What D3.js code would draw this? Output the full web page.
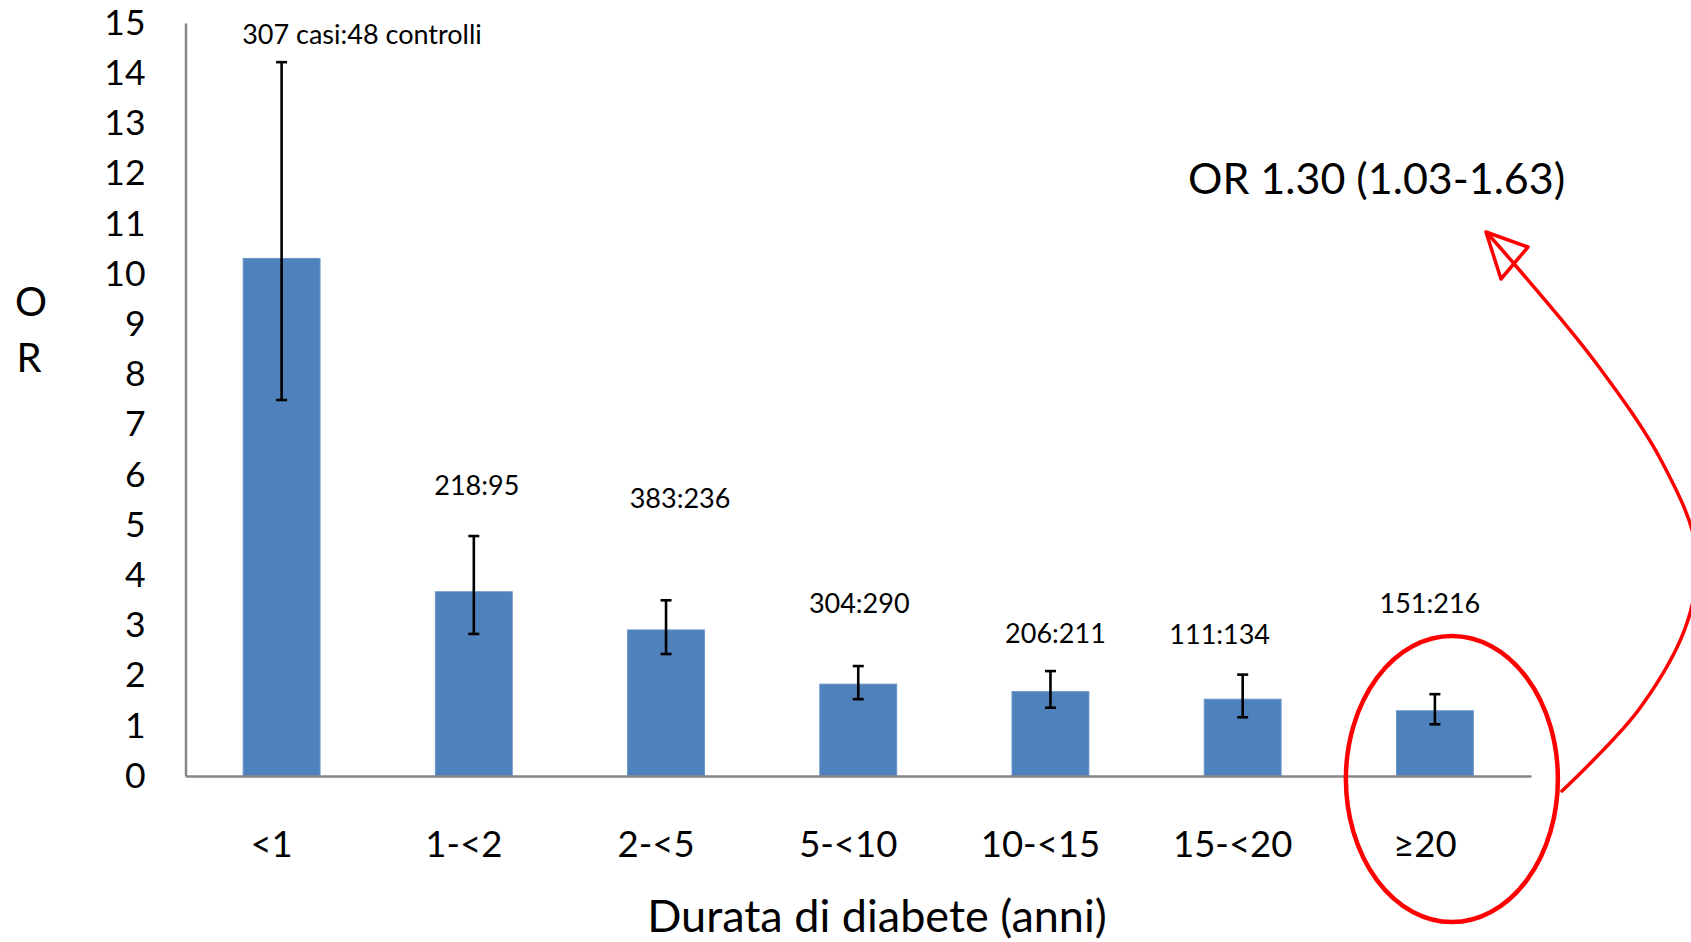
<!DOCTYPE html>
<html>
<head>
<meta charset="utf-8">
<script src="https://cdn.jsdelivr.net/npm/d3@7/dist/d3.min.js"></script>
<style>
  html, body { margin: 0; padding: 0; background: #ffffff; }
  svg { display: block; font-family: Lato, "Open Sans", sans-serif; }
</style>
</head>
<body>
<svg id="chart" width="1691" height="942"></svg>
<script>
// Odds ratio by duration of diabetes, with 95% confidence intervals
const categories = ["<1", "1-<2", "2-<5", "5-<10", "10-<15", "15-<20", "\u226520"];
const orValues   = [10.31, 3.67, 2.91, 1.83, 1.68, 1.53, 1.30];
const ciLow      = [7.49, 2.83, 2.43, 1.53, 1.36, 1.17, 1.03];
const ciHigh     = [14.22, 4.78, 3.50, 2.19, 2.09, 2.02, 1.63];
const countLabels = ["307 casi:48 controlli", "218:95", "383:236", "304:290", "206:211", "111:134", "151:216"];
const yTickValues = d3.range(0, 16);

// Placement of the case:control labels (horizontal nudge in px, height in OR units)
const labelDx = [0, 3, 14, 1, 5, -23, -5];
const labelAt = [14.58, 5.59, 5.34, 3.25, 2.65, 2.63, 3.25];

const svg = d3.select("#chart");
const plot = { left: 185.5, right: 1531, top: 23, bottom: 776 };

const x = d3.scaleBand()
  .domain(categories)
  .range([plot.left, plot.right])
  .paddingInner(0.6)
  .paddingOuter(0.3);

const y = d3.scaleLinear()
  .domain([0, 15])
  .range([plot.bottom, plot.top]);

const rows = categories.map((c, i) => ({
  cat: c, or: orValues[i], lo: ciLow[i], hi: ciHigh[i],
  label: countLabels[i], dx: labelDx[i], ly: labelAt[i], i
}));

// Bars
svg.append("g").selectAll("rect")
  .data(rows)
  .join("rect")
  .attr("x", d => x(d.cat))
  .attr("y", d => y(d.or))
  .attr("width", x.bandwidth())
  .attr("height", d => y(0) - y(d.or))
  .attr("fill", "#4f81bd")
  .attr("stroke", "#6a95c9")
  .attr("stroke-width", 1);

// Axes (lines only, Excel style)
const yAxis = d3.axisLeft(y).tickValues(yTickValues).tickSize(0).tickPadding(40).tickFormat(d3.format("d"));
const gy = svg.append("g").attr("transform", `translate(${plot.left},0)`).call(yAxis);
gy.select(".domain").attr("stroke", "#868686").attr("stroke-width", 2.5);
gy.selectAll("text")
  .attr("font-size", 35.5)
  .attr("font-family", "Lato")
  .attr("fill", "#000");

const xAxis = d3.axisBottom(x).tickSize(0).tickPadding(0);
const gx = svg.append("g").attr("transform", `translate(0,${plot.bottom})`).call(xAxis);
gx.select(".domain").attr("stroke", "#868686").attr("stroke-width", 2.5);
gx.selectAll("text")
  .attr("font-size", 36.5)
  .attr("font-family", "Lato")
  .attr("fill", "#000")
  .attr("dx", -10)
  .attr("y", 81)
  .attr("dy", 0);

// Error bars
const cap = 11;
const eg = svg.append("g").attr("stroke", "#000").attr("stroke-width", 2.6).attr("fill", "none");
rows.forEach(d => {
  const cx = x(d.cat) + x.bandwidth() / 2;
  eg.append("line").attr("x1", cx).attr("x2", cx).attr("y1", y(d.hi)).attr("y2", y(d.lo));
  eg.append("line").attr("x1", cx - cap / 2).attr("x2", cx + cap / 2).attr("y1", y(d.hi)).attr("y2", y(d.hi));
  eg.append("line").attr("x1", cx - cap / 2).attr("x2", cx + cap / 2).attr("y1", y(d.lo)).attr("y2", y(d.lo));
});

// Case:control counts above the bars
svg.append("g").selectAll("text")
  .data(rows)
  .join("text")
  .attr("x", d => d.i === 0 ? x(d.cat) - 1 : x(d.cat) + x.bandwidth() / 2 + d.dx)
  .attr("y", d => y(d.ly))
  .attr("text-anchor", d => d.i === 0 ? "start" : "middle")
  .attr("font-size", 27)
  .attr("fill", "#000")
  .text(d => d.label);

// Axis titles
svg.append("text").attr("x", 31).attr("y", 316).attr("text-anchor", "middle")
  .attr("font-size", 40).text("O");
svg.append("text").attr("x", 29).attr("y", 372).attr("text-anchor", "middle")
  .attr("font-size", 40).text("R");
svg.append("text").attr("x", 877).attr("y", 932).attr("text-anchor", "middle")
  .attr("font-size", 45).text("Durata di diabete (anni)");

// Highlight of the last class and its pooled estimate
const lastCat = categories[categories.length - 1];
const ecx = x(lastCat) + x.bandwidth() / 2 + 17;
const ecy = y(0) + 3;
svg.append("ellipse")
  .attr("cx", ecx).attr("cy", ecy).attr("rx", 106).attr("ry", 143)
  .attr("fill", "none").attr("stroke", "#ff0000").attr("stroke-width", 4.5);

svg.append("text").attr("x", 1188).attr("y", 194)
  .attr("font-size", 43).attr("fill", "#000")
  .text(`OR ${orValues[6].toFixed(2)} (${ciLow[6].toFixed(2)}-${ciHigh[6].toFixed(2)})`);

// Curved arrow from the ellipse up to the estimate
const arrowPts = [[1562, 791], [1640, 708], [1688, 620], [1696, 548], [1662, 462], [1596, 363], [1516, 266], [1488, 234]];
svg.append("path")
  .attr("d", d3.line().curve(d3.curveCatmullRom.alpha(0.5))(arrowPts))
  .attr("fill", "none").attr("stroke", "#ff0000").attr("stroke-width", 3.5)
  .attr("stroke-linecap", "round");
svg.append("path")
  .attr("d", "M1486,232 L1528,247 L1501,279 Z")
  .attr("fill", "none").attr("stroke", "#ff0000").attr("stroke-width", 3.5)
  .attr("stroke-linejoin", "round");
</script>
</body>
</html>
